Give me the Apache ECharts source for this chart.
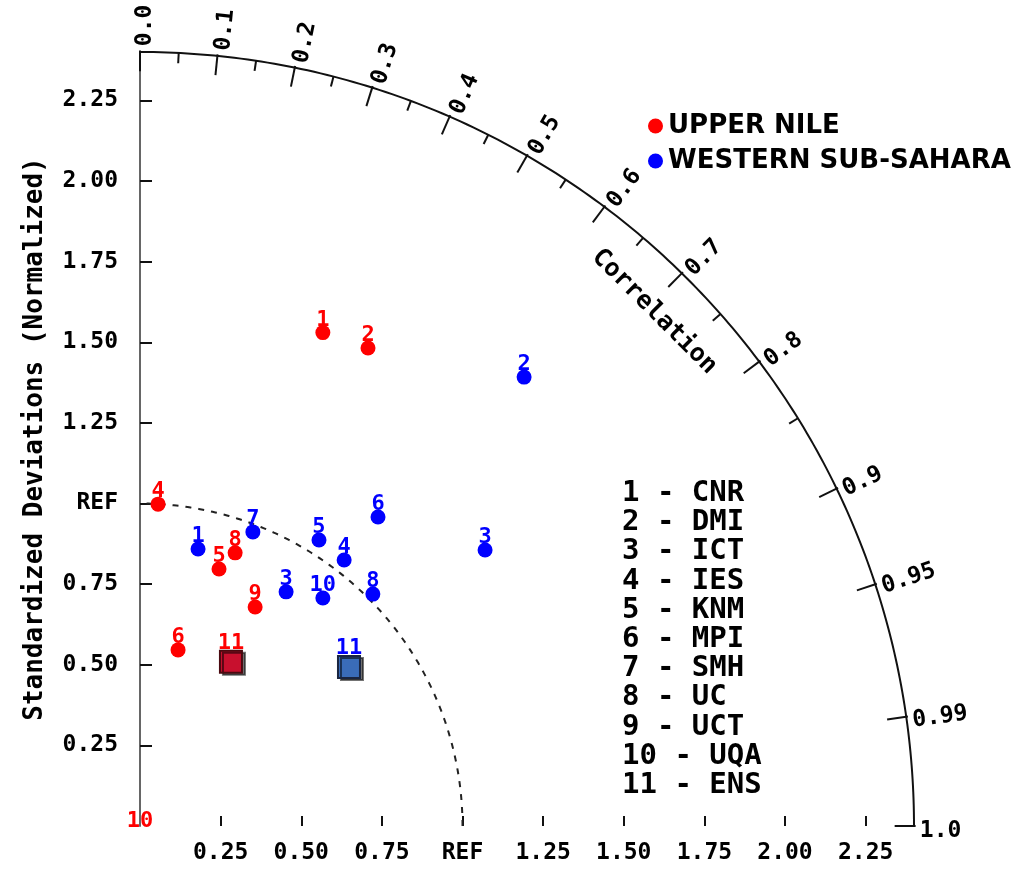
<!DOCTYPE html>
<html><head><meta charset="utf-8">
<script src="https://cdn.jsdelivr.net/npm/echarts@6/dist/echarts.min.js"></script>
<style>html,body{margin:0;padding:0;background:#fff}#chart{width:1015px;height:869px}</style>
</head><body><div id="chart"></div>
<script>
// ---------------- data ----------------
const regionNames = ['UPPER NILE', 'WESTERN SUB-SAHARA'];
// points as (x, y) components in normalized standard-deviation units, with model number
const upperNileLabels = ['1', '2', '4', '8', '5', '9', '6', '10'];
const upperNileX = [0.567, 0.707, 0.056, 0.295, 0.245, 0.357, 0.118, 0.0];
const upperNileY = [1.530, 1.482, 0.998, 0.847, 0.797, 0.679, 0.546, 0.0];
const upperNileEnsX = [0.282];
const upperNileEnsY = [0.509];

const westernLabels = ['1', '2', '3', '3', '4', '5', '6', '7', '8', '10'];
const westernX = [0.180, 1.191, 1.070, 0.453, 0.633, 0.555, 0.738, 0.350, 0.722, 0.567];
const westernY = [0.859, 1.392, 0.856, 0.726, 0.825, 0.887, 0.958, 0.912, 0.719, 0.707];
const westernEnsX = [0.648];
const westernEnsY = [0.493];
const ensLabel = '11';

const modelNumbers = ['1', '2', '3', '4', '5', '6', '7', '8', '9', '10', '11'];
const modelNames = ['CNR', 'DMI', 'ICT', 'IES', 'KNM', 'MPI', 'SMH', 'UC', 'UCT', 'UQA', 'ENS'];

const sdTicks = [0.25, 0.5, 0.75, 1.0, 1.25, 1.5, 1.75, 2.0, 2.25];
const sdMax = 2.4;
const refSD = 1.0;
const corrMajor = [0.0, 0.1, 0.2, 0.3, 0.4, 0.5, 0.6, 0.7, 0.8, 0.9, 0.95, 0.99, 1.0];
const corrMajorLabels = ['0.0', '0.1', '0.2', '0.3', '0.4', '0.5', '0.6', '0.7', '0.8', '0.9', '0.95', '0.99', '1.0'];
const corrMinor = [0.05, 0.15, 0.25, 0.35, 0.45, 0.55, 0.65, 0.75, 0.85];
const corrTitle = 'Correlation';
const yTitle = 'Standardized Deviations (Normalized)';

// --------------- build ---------------
function pts(xs, ys, labels) { return xs.map((x, i) => [x, ys[i], labels[i]]); }
const MONO = '"DejaVu Sans Mono", monospace';
const SANS = '"DejaVu Sans", sans-serif';

function sdLabel(v) { return Math.abs(v - refSD) < 1e-9 ? 'REF' : v.toFixed(2); }

function renderFrame(params, api) {
  const children = [];
  const P = (r, th) => api.coord([r * Math.cos(th), r * Math.sin(th)]);
  const outer = [];
  for (let a = 0; a <= 90.001; a += 0.5) outer.push(P(sdMax, a * Math.PI / 180));
  children.push({ type: 'polyline', shape: { points: outer }, style: { stroke: '#111', lineWidth: 2, fill: null } });
  const ref = [];
  for (let a = 0; a <= 90.001; a += 0.5) ref.push(P(refSD, a * Math.PI / 180));
  children.push({ type: 'polyline', shape: { points: ref }, style: { stroke: '#222', lineWidth: 2, fill: null, lineDash: [6, 7] } });
  corrMajor.forEach((c, i) => {
    const th = Math.acos(c);
    const a = P(sdMax + 0.005, th), b = P(sdMax - 0.06, th);
    children.push({ type: 'line', shape: { x1: a[0], y1: a[1], x2: b[0], y2: b[1] }, style: { stroke: '#111', lineWidth: 2 } });
    const t = P(sdMax + 0.018, th);
    const off = 5;
    children.push({ type: 'text', x: t[0] + off * Math.sin(th), y: t[1] + off * Math.cos(th), rotation: th,
      style: { text: corrMajorLabels[i], fill: '#000', font: 'bold 23px ' + MONO, align: 'left', verticalAlign: 'middle' } });
  });
  corrMinor.forEach(c => {
    const th = Math.acos(c);
    const a = P(sdMax, th), b = P(sdMax - 0.032, th);
    children.push({ type: 'line', shape: { x1: a[0], y1: a[1], x2: b[0], y2: b[1] }, style: { stroke: '#111', lineWidth: 2 } });
  });
  const ct = P(2.255, Math.PI / 4);
  children.push({ type: 'text', x: ct[0], y: ct[1], rotation: -Math.PI / 4,
    style: { text: corrTitle, fill: '#000', font: 'bold 25px ' + MONO, align: 'center', verticalAlign: 'middle' } });
  return { type: 'group', children };
}

const labelStyle = (color) => ({
  show: true, position: 'top', distance: -6, color: color,
  fontFamily: MONO, fontWeight: 'bold', fontSize: 22,
  formatter: p => p.data[2]
});

const option = {
  backgroundColor: '#fff',
  animation: false,
  grid: { left: 140, top: 52, width: 774, height: 774 },
  xAxis: {
    type: 'value', min: 0, max: sdMax,
    axisLine: { show: false },
    splitLine: { show: false },
    axisTick: { show: true, inside: true, length: 10, customValues: sdTicks, lineStyle: { color: '#111', width: 2 } },
    axisLabel: { customValues: sdTicks, formatter: sdLabel, margin: 16, color: '#000',
      fontFamily: MONO, fontWeight: 'bold', fontSize: 23 }
  },
  yAxis: {
    type: 'value', min: 0, max: sdMax,
    name: yTitle, nameLocation: 'middle', nameRotate: 90, nameGap: 92,
    nameTextStyle: { fontFamily: MONO, fontWeight: 'bold', fontSize: 26, color: '#000' },
    axisLine: { show: true, lineStyle: { color: '#666', width: 2 } },
    splitLine: { show: false },
    axisTick: { show: true, inside: true, length: 12, customValues: sdTicks, lineStyle: { color: '#111', width: 2 } },
    axisLabel: { customValues: sdTicks, formatter: sdLabel, margin: 22, color: '#000',
      fontFamily: MONO, fontWeight: 'bold', fontSize: 23 }
  },
  legend: {
    data: regionNames, orient: 'vertical', left: 643, top: 108,
    itemWidth: 15, itemHeight: 15, itemGap: 9, icon: 'circle',
    textStyle: { fontFamily: SANS, fontWeight: 'bold', fontSize: 26, color: '#000', lineHeight: 26 }
  },
  graphic: modelNumbers.map((n, i) => ({
    type: 'text', left: 622, top: 479 + i * 29.2,
    style: { text: n + ' - ' + modelNames[i], fill: '#000', font: 'bold 29px ' + MONO }
  })),
  series: [
    { type: 'custom', coordinateSystem: 'cartesian2d', silent: true, z: 1, data: [[0, 0]], renderItem: renderFrame },
    { name: regionNames[0], type: 'scatter', z: 5,
      symbol: 'circle', symbolSize: v => (v[0] === 0 && v[1] === 0) ? 0 : 15,
      itemStyle: { color: '#ff0000', opacity: 1 }, label: labelStyle('#ff0000'),
      data: pts(upperNileX, upperNileY, upperNileLabels) },
    { name: regionNames[1], type: 'scatter', z: 5,
      symbol: 'circle', symbolSize: 15,
      itemStyle: { color: '#0000ff', opacity: 1 }, label: labelStyle('#0000ff'),
      data: pts(westernX, westernY, westernLabels) },
    { name: regionNames[0] + ' ENS', type: 'scatter', z: 6,
      symbol: 'rect', symbolSize: 22,
      itemStyle: { color: '#c8102e', opacity: 1, borderColor: '#4a0a10', borderWidth: 2, shadowColor: 'rgba(0,0,0,0.55)', shadowOffsetX: 3, shadowOffsetY: 2 },
      label: Object.assign(labelStyle('#ff0000'), { distance: -4 }),
      data: pts(upperNileEnsX, upperNileEnsY, [ensLabel]) },
    { name: regionNames[1] + ' ENS', type: 'scatter', z: 6,
      symbol: 'rect', symbolSize: 22,
      itemStyle: { color: '#3a6cb8', opacity: 1, borderColor: '#1a2540', borderWidth: 2, shadowColor: 'rgba(0,0,0,0.55)', shadowOffsetX: 3, shadowOffsetY: 2 },
      label: Object.assign(labelStyle('#0000ff'), { distance: -4 }),
      data: pts(westernEnsX, westernEnsY, [ensLabel]) }
  ]
};

const chart = echarts.init(document.getElementById('chart'));
chart.setOption(option);
</script>
</body></html>
